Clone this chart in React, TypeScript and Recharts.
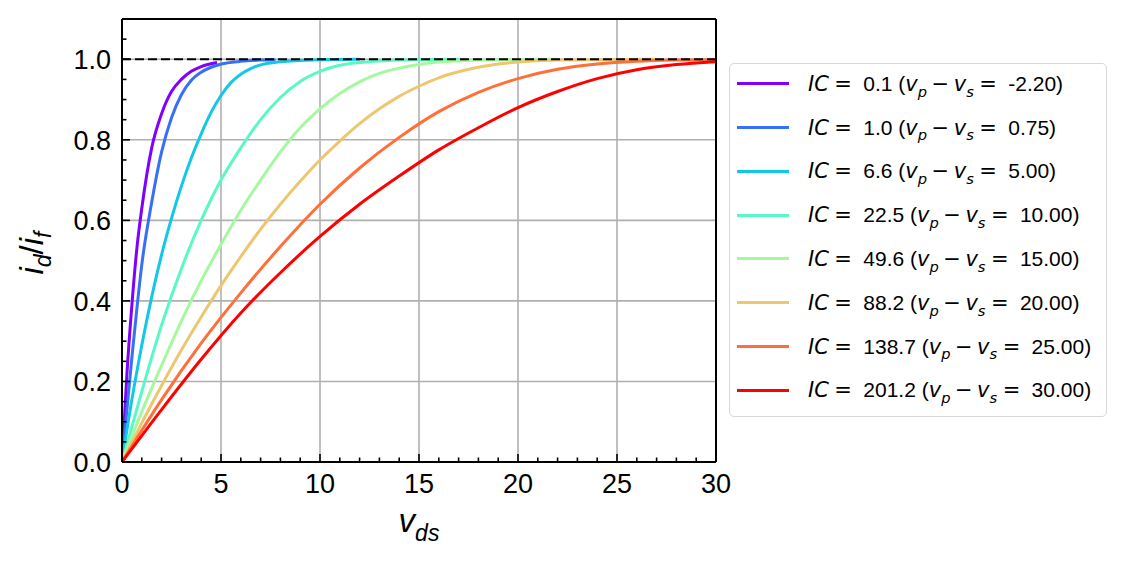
import React from "react";
import {
  LineChart,
  Line,
  XAxis,
  YAxis,
  CartesianGrid,
  ReferenceLine,
} from "recharts";

// curves, one x/y pair of arrays per IC value
const purpleX = [0, 0.25, 0.5, 0.75, 1, 1.5, 2, 2.5, 3, 3.5, 4, 4.8];
const purpleY = [0, 0.22, 0.39, 0.53, 0.63, 0.78, 0.865, 0.92, 0.95, 0.97, 0.982, 0.992];

const blueX = [0, 0.25, 0.5, 0.75, 1, 1.5, 2, 2.5, 3, 3.5, 4, 5, 6, 7, 7.75];
const blueY = [0, 0.13, 0.26, 0.38, 0.49, 0.645, 0.77, 0.855, 0.912, 0.948, 0.968, 0.988, 0.995, 0.998, 0.999];

const cyanX = [0, 0.5, 1, 1.5, 2, 2.5, 3, 3.5, 4, 4.5, 5, 5.5, 6, 6.5, 7, 8, 9, 10, 12];
const cyanY = [0, 0.155, 0.29, 0.41, 0.515, 0.605, 0.685, 0.755, 0.815, 0.868, 0.91, 0.942, 0.963, 0.977, 0.986, 0.994, 0.997, 0.999, 1.0];

const tealX = [0, 1, 2, 3, 4, 5, 6, 7, 8, 9, 10, 11, 12, 13, 14, 15, 17];
const tealY = [0, 0.175, 0.34, 0.48, 0.6, 0.7, 0.78, 0.85, 0.905, 0.945, 0.97, 0.985, 0.992, 0.996, 0.998, 0.999, 1.0];

const greenX = [0, 1, 2, 3, 4, 5, 6, 7, 8, 9, 10, 11, 12, 13, 14, 15, 16, 17, 18, 20, 22];
const greenY = [0, 0.125, 0.24, 0.35, 0.45, 0.54, 0.625, 0.7, 0.77, 0.83, 0.877, 0.915, 0.944, 0.965, 0.978, 0.987, 0.993, 0.996, 0.998, 0.999, 1.0];

const yellowX = [0, 1, 2, 3, 4, 5, 6, 7, 8, 9, 10, 11, 12, 13, 14, 15, 16, 17, 18, 19, 20, 22, 24, 27];
const yellowY = [0, 0.097, 0.19, 0.278, 0.36, 0.438, 0.51, 0.578, 0.64, 0.697, 0.75, 0.797, 0.84, 0.877, 0.908, 0.933, 0.954, 0.969, 0.98, 0.988, 0.993, 0.998, 0.999, 1.0];

const orangeX = [0, 2, 4, 6, 8, 10, 12, 14, 16, 18, 20, 22, 24, 26, 28, 30];
const orangeY = [0, 0.155, 0.295, 0.42, 0.535, 0.64, 0.73, 0.806, 0.87, 0.918, 0.952, 0.975, 0.988, 0.995, 0.998, 0.999];

const redX = [0, 2, 4, 6, 8, 10, 12, 14, 16, 18, 20, 22, 24, 26, 28, 30];
const redY = [0, 0.13, 0.255, 0.37, 0.47, 0.56, 0.64, 0.71, 0.775, 0.83, 0.88, 0.92, 0.952, 0.974, 0.987, 0.994];

const icLabels = ["0.1", "1.0", "6.6", "22.5", "49.6", "88.2", "138.7", "201.2"];
const vpvsLabels = ["-2.20", "0.75", "5.00", "10.00", "15.00", "20.00", "25.00", "30.00"];
const colors = ["#8000ff", "#376ff9", "#12c8e6", "#5bf8c7", "#a4f99f", "#edc76f", "#ff6f39", "#ff0000"];

const xTicks = [0, 1, 2, 3, 4, 5, 6, 7, 8, 9, 10, 11, 12, 13, 14, 15, 16, 17, 18, 19, 20, 21, 22, 23, 24, 25, 26, 27, 28, 29, 30];
const xMajor = [5, 10, 15, 20, 25];
const yTicks = [0, 0.05, 0.1, 0.15, 0.2, 0.25, 0.3, 0.35, 0.4, 0.45, 0.5, 0.55, 0.6, 0.65, 0.7, 0.75, 0.8, 0.85, 0.9, 0.95, 1.0, 1.05, 1.1];
const yMajor = [0.2, 0.4, 0.6, 0.8, 1.0];

const curves = [
  [purpleX, purpleY],
  [blueX, blueY],
  [cyanX, cyanY],
  [tealX, tealY],
  [greenX, greenY],
  [yellowX, yellowY],
  [orangeX, orangeY],
  [redX, redY],
].map(([xs, ys]) => xs.map((x, i) => ({ x, y: ys[i] })));

const FONT = "'Liberation Sans', Arial, sans-serif";
const MATH = "'DejaVu Sans', sans-serif";

const isMajorX = (v: number) => v % 5 === 0;
const isMajorY = (v: number) => Math.abs(v * 5 - Math.round(v * 5)) < 1e-6 && v < 1.05;

const XTick = (props: any) => {
  const { x, y, payload } = props;
  const major = isMajorX(payload.value);
  return (
    <g>
      <line x1={x} x2={x} y1={y} y2={y - (major ? 8 : 4.5)} stroke="#000" strokeWidth={1.6} />
      {major && (
        <text x={x} y={y + 31} textAnchor="middle" fontSize={27} fontFamily={FONT} fill="#000">
          {payload.value}
        </text>
      )}
    </g>
  );
};

const YTick = (props: any) => {
  const { x, y, payload } = props;
  const major = isMajorY(payload.value);
  return (
    <g>
      <line x1={x} x2={x + (major ? 8 : 4.5)} y1={y} y2={y} stroke="#000" strokeWidth={1.6} />
      {major && (
        <text x={x - 11} y={y + 10} textAnchor="end" fontSize={27} fontFamily={FONT} fill="#000">
          {payload.value.toFixed(1)}
        </text>
      )}
    </g>
  );
};

const XLabel = () => (
  <text x={419} y={532} textAnchor="middle" fontSize={33} fontFamily={FONT} fontStyle="italic" fill="#000">
    v<tspan fontSize={23} dy={9}>ds</tspan>
  </text>
);

const YLabel = () => (
  <text
    transform="translate(43 253) rotate(-90)"
    textAnchor="middle"
    fontSize={33}
    fontFamily={FONT}
    fontStyle="italic"
    fill="#000"
  >
    i<tspan fontSize={23} dy={8}>d</tspan>
    <tspan fontSize={33} fontStyle="normal" dy={-8}>/</tspan>
    i<tspan fontSize={23} dy={8}>f</tspan>
  </text>
);

const M = ({ children, ml = 0, mr = 0 }: { children: React.ReactNode; ml?: number; mr?: number }) => (
  <span style={{ fontFamily: MATH, fontStyle: "italic", marginLeft: ml, marginRight: mr }}>{children}</span>
);

const Op = ({ children, space }: { children: React.ReactNode; space: number }) => (
  <span style={{ fontFamily: MATH, marginLeft: space, marginRight: space }}>{children}</span>
);

const Sub = ({ children }: { children: React.ReactNode }) => (
  <span style={{ fontFamily: MATH, fontSize: "0.7em", position: "relative", top: "0.4em", fontStyle: "italic" }}>
    {children}
  </span>
);

const LegendBox = () => (
  <div
    style={{
      position: "absolute",
      left: 729,
      top: 63,
      width: 376,
      height: 352,
      border: "1.5px solid #d8d8d8",
      borderRadius: 5,
      background: "rgba(255,255,255,0.8)",
      fontFamily: FONT,
      fontSize: 21,
      color: "#000",
    }}
  >
    {icLabels.map((ic, i) => (
      <div
        key={ic}
        style={{
          position: "absolute",
          left: 0,
          top: 19.7 + 43.8 * i - 15,
          height: 30,
          display: "flex",
          alignItems: "center",
          whiteSpace: "pre",
        }}
      >
        <div style={{ marginLeft: 7, width: 52, height: 3, background: colors[i] }} />
        <div style={{ marginLeft: 19 }}>
          <M>IC</M>
          <Op space={5.5}>=</Op>
          {" " + ic + " ("}
          <M>v</M>
          <Sub>p</Sub>
          <Op space={4.5}>−</Op>
          <M>v</M>
          <Sub>s</Sub>
          <Op space={5.5}>=</Op>
          {" " + vpvsLabels[i] + ")"}
        </div>
      </div>
    ))}
  </div>
);

export default function App() {
  return (
    <div style={{ position: "absolute", left: 0, top: 0, width: 1126, height: 565, background: "#fff" }}>
      <LineChart width={1126} height={565} margin={{ top: 19, right: 410, bottom: 0, left: 0 }}>
        <CartesianGrid
          stroke="#b0b0b0"
          strokeWidth={1.6}
          verticalValues={xMajor}
          horizontalValues={yMajor}
        />
        <XAxis
          dataKey="x"
          type="number"
          domain={[0, 30]}
          ticks={xTicks}
          interval={0}
          allowDataOverflow
          height={103}
          tickSize={0}
          tickMargin={0}
          tickLine={false}
          axisLine={{ stroke: "#000", strokeWidth: 2 }}
          tick={<XTick />}
          label={<XLabel />}
        />
        <YAxis
          type="number"
          domain={[0, 1.1]}
          ticks={yTicks}
          interval={0}
          allowDataOverflow
          width={122}
          tickSize={0}
          tickMargin={0}
          tickLine={false}
          axisLine={{ stroke: "#000", strokeWidth: 2 }}
          tick={<YTick />}
          label={<YLabel />}
        />
        {curves.map((data, i) => (
          <Line
            key={icLabels[i]}
            data={data}
            dataKey="y"
            type="monotone"
            stroke={colors[i]}
            strokeWidth={3}
            dot={false}
            activeDot={false}
            isAnimationActive={false}
          />
        ))}
        <ReferenceLine y={1} stroke="#000" strokeWidth={2} strokeDasharray="9 4" />
        <ReferenceLine y={1.1} stroke="#000" strokeWidth={2} />
        <ReferenceLine x={30} stroke="#000" strokeWidth={2} />
      </LineChart>
      <LegendBox />
    </div>
  );
}
